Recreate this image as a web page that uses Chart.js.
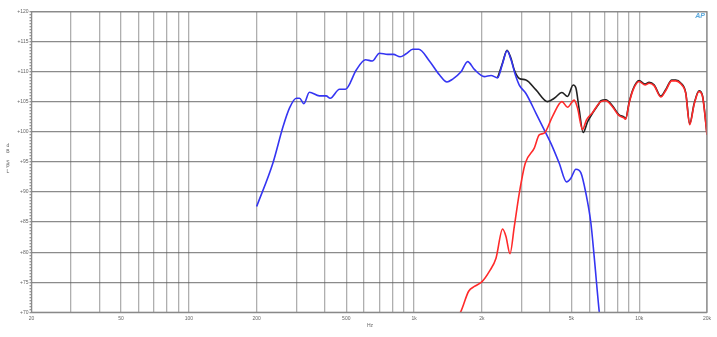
<!DOCTYPE html>
<html>
<head>
<meta charset="utf-8">
<script src="https://cdn.jsdelivr.net/npm/chart.js@4"></script>
<style>
  body { margin: 0; background: #fff; }
  #wrap { width: 717px; height: 337px; }
</style>
</head>
<body>
<div id="wrap"><canvas id="fr" width="717" height="337"></canvas></div>
<script>
// frequency response readings (Hz / dB SPL)
var blueFreq = [200, 236, 262, 280, 300, 310, 324, 343, 380, 407, 424, 467, 496, 554, 609, 652, 702, 764, 810, 867, 922, 987, 1049, 1170, 1296, 1400, 1485, 1617, 1730, 1853, 2052, 2197, 2350, 2473, 2588, 2696, 2817, 2933, 3140, 3480, 3786, 4054, 4414, 4754, 4971, 5234, 5508, 5797, 6100, 6308, 6640, 6800];
var blueSpl = [87.6, 94.8, 100.9, 104.0, 105.6, 105.6, 104.7, 106.6, 106.0, 106.0, 105.6, 107.1, 107.1, 110.3, 112.0, 111.8, 113.1, 112.9, 112.9, 112.5, 113.0, 113.75, 113.75, 111.8, 109.5, 108.3, 108.8, 110.0, 111.7, 110.4, 109.2, 109.4, 109.0, 111.4, 113.5, 112.0, 109.5, 107.8, 106.4, 103.1, 100.35, 98.1, 94.8, 91.7, 92.3, 93.8, 93.2, 89.8, 84.85, 79.3, 70.2, 67];

var redFreq = [1550, 1617, 1748, 1853, 2004, 2160, 2312, 2473, 2560, 2667, 2788, 2933, 3118, 3419, 3597, 3786, 4121, 4537, 4803, 5143, 5318, 5600, 5831, 6199, 6757, 7108, 7604, 8088, 8574, 8700, 9022, 9395, 9985, 10620, 11060, 11640, 12470, 13120, 13950, 14530, 15290, 16090, 16760, 17520, 18430, 19100, 20000];
var redSpl = [69, 70.2, 73.5, 74.3, 75.1, 76.8, 79.0, 83.85, 82.6, 79.75, 84.3, 89.8, 94.8, 97.3, 99.5, 99.8, 102.6, 105.05, 104.1, 105.3, 104.0, 100.4, 102.0, 103.2, 105.05, 105.2, 104.2, 102.8, 102.3, 102.1, 104.8, 107.0, 108.4, 107.8, 108.1, 107.7, 105.8, 106.9, 108.5, 108.5, 108.0, 106.4, 101.2, 104.5, 106.7, 105.9, 99.5];

var sumFreq = [2350, 2473, 2588, 2696, 2788, 2933, 3140, 3480, 3916, 4193, 4537, 4803, 5090, 5234, 5400, 5638, 5900, 6199, 6600, 6757, 7108, 7604, 8088, 8574, 8700, 9022, 9395, 9985, 10620, 11060, 11640, 12470, 13120, 13950, 14530, 15290, 16090, 16760, 17520, 18430, 19100, 20000];
var sumSpl = [109.0, 111.5, 113.6, 112.2, 110.3, 108.9, 108.65, 107.0, 105.05, 105.6, 106.55, 105.9, 107.8, 107.3, 104.0, 99.9, 101.7, 103.1, 104.6, 105.2, 105.35, 104.35, 102.95, 102.45, 102.25, 104.95, 107.15, 108.55, 107.95, 108.25, 107.85, 105.95, 107.05, 108.65, 108.65, 108.15, 106.55, 101.35, 104.65, 106.85, 106.05, 99.65];

// axis ticks
var xGrid = [20, 30, 40, 50, 60, 70, 80, 90, 100, 200, 300, 400, 500, 600, 700, 800, 900, 1000, 2000, 3000, 4000, 5000, 6000, 7000, 8000, 9000, 10000, 20000];
var xLabels = {20: '20', 50: '50', 100: '100', 200: '200', 500: '500', 1000: '1k', 2000: '2k', 5000: '5k', 10000: '10k', 20000: '20k'};
var yMin = 70, yMax = 120;

function pts(fs, vs) {
  return fs.map((f, i) => ({x: f, y: vs[i]}));
}

// frame, stacked axis title and the little logo
var extras = {
  id: 'extras',
  afterDraw(c) {
    var ctx = c.ctx, a = c.chartArea;
    ctx.save();
    ctx.strokeStyle = '#8a8a8a';
    ctx.lineWidth = 1.2;
    ctx.strokeRect(a.left, a.top, a.right - a.left, a.bottom - a.top);
    ctx.fillStyle = '#666';
    ctx.font = '5px "Liberation Sans", Arial, sans-serif';
    ctx.textAlign = 'center';
    ctx.textBaseline = 'middle';
    [['d', 146], ['B', 151.5], ['S', 162.5], ['P', 167], ['L', 172]].forEach(l => ctx.fillText(l[0], 8, l[1]));
    ctx.fillText('Hz', 370, 326);
    ctx.fillStyle = '#5aa8dc';
    ctx.font = 'italic bold 7px "Liberation Sans", Arial, sans-serif';
    ctx.fillText('AP', 700, 16);
    ctx.restore();
  }
};

new Chart(document.getElementById('fr').getContext('2d'), {
  type: 'line',
  data: {
    datasets: [
      { label: 'tweeter', data: pts(redFreq, redSpl), borderColor: '#ff2a2a', borderWidth: 1.6 },
      { label: 'woofer', data: pts(blueFreq, blueSpl), borderColor: '#3535f2', borderWidth: 1.6 },
      { label: 'sum', data: pts(sumFreq, sumSpl), borderColor: '#222', borderWidth: 1.6 }
    ]
  },
  options: {
    responsive: false,
    animation: false,
    events: [],
    parsing: false,
    elements: {
      point: { radius: 0 },
      line: { tension: 0.4, cubicInterpolationMode: 'monotone', fill: false }
    },
    layout: { padding: { top: 11.7, right: 10, left: 0, bottom: 0 } },
    plugins: { legend: { display: false }, tooltip: { enabled: false } },
    scales: {
      x: {
        type: 'logarithmic',
        min: 20,
        max: 20000,
        afterBuildTicks: s => { s.ticks = xGrid.map(v => ({value: v})); },
        afterFit: s => { s.height = 24.7; },
        grid: { color: 'rgba(110,110,110,0.55)', lineWidth: 1.3, drawTicks: false },
        border: { display: false },
        ticks: {
          autoSkip: false,
          maxRotation: 0,
          padding: 3,
          color: '#666',
          font: { size: 5, family: '"Liberation Sans", Arial, sans-serif' },
          callback: v => xLabels[v] || ''
        }
      },
      y: {
        min: yMin,
        max: yMax,
        afterFit: s => { s.width = 31.5; },
        grid: {
          color: c => (c.tick && c.tick.value % 5 === 0) ? 'rgba(90,90,90,0.7)' : 'rgba(0,0,0,0)',
          lineWidth: 1.3,
          tickColor: '#999',
          tickLength: 2
        },
        border: { display: false },
        ticks: {
          stepSize: 0.5,
          autoSkip: false,
          padding: 1,
          color: '#666',
          font: { size: 5, family: '"Liberation Sans", Arial, sans-serif' },
          callback: v => v % 5 === 0 ? '+' + v : ''
        }
      }
    }
  },
  plugins: [extras]
});
</script>
</body>
</html>
